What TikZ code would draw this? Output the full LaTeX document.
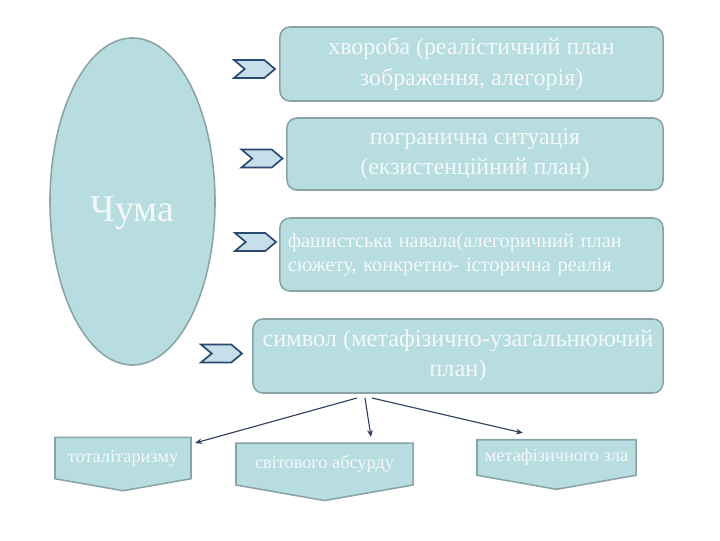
\documentclass[tikz,border=0pt]{standalone}
\usepackage{fontspec}
\setmainfont{Liberation Serif}
\usetikzlibrary{shapes.geometric,shapes.symbols,arrows.meta}
\definecolor{boxfill}{HTML}{B7DDE1}
\definecolor{boxline}{HTML}{8AA3A6}
\definecolor{chevfill}{HTML}{C7DFEA}
\definecolor{chevline}{HTML}{2B4A70}
\definecolor{arrowline}{HTML}{2E3F5C}
\definecolor{txt}{HTML}{F4F8F9}
\begin{document}
\begin{tikzpicture}
	[x=0.025cm,y=-0.025cm,
	every node/.style={fill=boxfill, draw=boxline, line width=1.1pt, text=txt},
	plan/.style={rounded corners=0.25cm, align=center, font=\fontsize{17}{21.5}\selectfont},
	chevron/.style={signal, signal from=west, signal to=east, signal pointer angle=80,
		fill=chevfill, draw=chevline, line width=1.2pt, minimum width=1.025cm, minimum height=0.45cm, inner sep=0pt},
	leaf/.style={signal, signal to=south, signal pointer angle=160, font=\fontsize{13}{15}\selectfont}]
	\useasboundingbox (0,0) rectangle (720,540);
	
	\node[ellipse, minimum width=4.125cm, minimum height=8.175cm, inner sep=0pt, font=\fontsize{27}{30}\selectfont] (plague) at (132.5,201.5) {\raisebox{0pt}[1cm][0pt]{Чума}};
	
	\node[plan, minimum width=9.575cm, minimum height=1.85cm] (b1) at (471.5,64) {хвороба (реалістичний план\\зображення, алегорія)};
	\node[plan, minimum width=9.4cm, minimum height=1.8cm] (b2) at (475,154) {погранична ситуація\\(екзистенційний план)};
	\node[plan, minimum width=9.575cm, minimum height=1.825cm, text width=9.175cm, inner xsep=0.2cm, align=left, font=\fontsize{14.5}{17.5}\selectfont] (b3) at (471.5,254.5) {фашистська навала(алегоричний план\\сюжету, конкретно- історична реалія};
	\node[plan, minimum width=10.25cm, minimum height=1.85cm, font=\fontsize{17.3}{21.5}\selectfont] (b4) at (458,356) {символ (метафізично-узагальнюючий\\план)};
	
	\node[chevron] (c1) at (254.5,69) {};
	\node[chevron] (c2) at (262,158.5) {};
	\node[chevron] (c3) at (255.5,242) {};
	\node[chevron] (c4) at (221.5,353.5) {};
	
	\node[leaf, minimum width=3.4cm, minimum height=1.3cm] (l1) at (123,458) {тоталітаризму};
	\node[leaf, minimum width=4.425cm, minimum height=1.375cm] (l2) at (324.5,464) {світового абсурду};
	\node[leaf, minimum width=3.975cm, minimum height=1.225cm] (l3) at (556.5,457.5) {метафізичного зла};
	
	\coordinate (a1) at (357,398);
	\coordinate (a2) at (365,398);
	\coordinate (a3) at (372,398);
	\coordinate (e1) at (195,443);
	\coordinate (e2) at (371,437);
	\coordinate (e3) at (523,433);
	
	\foreach \from/\to in {a1/e1,a2/e2,a3/e3}
	\draw[-{Stealth[length=5pt,width=4pt]}, draw=arrowline, line width=0.8pt] (\from) -- (\to);
\end{tikzpicture}
\end{document}
